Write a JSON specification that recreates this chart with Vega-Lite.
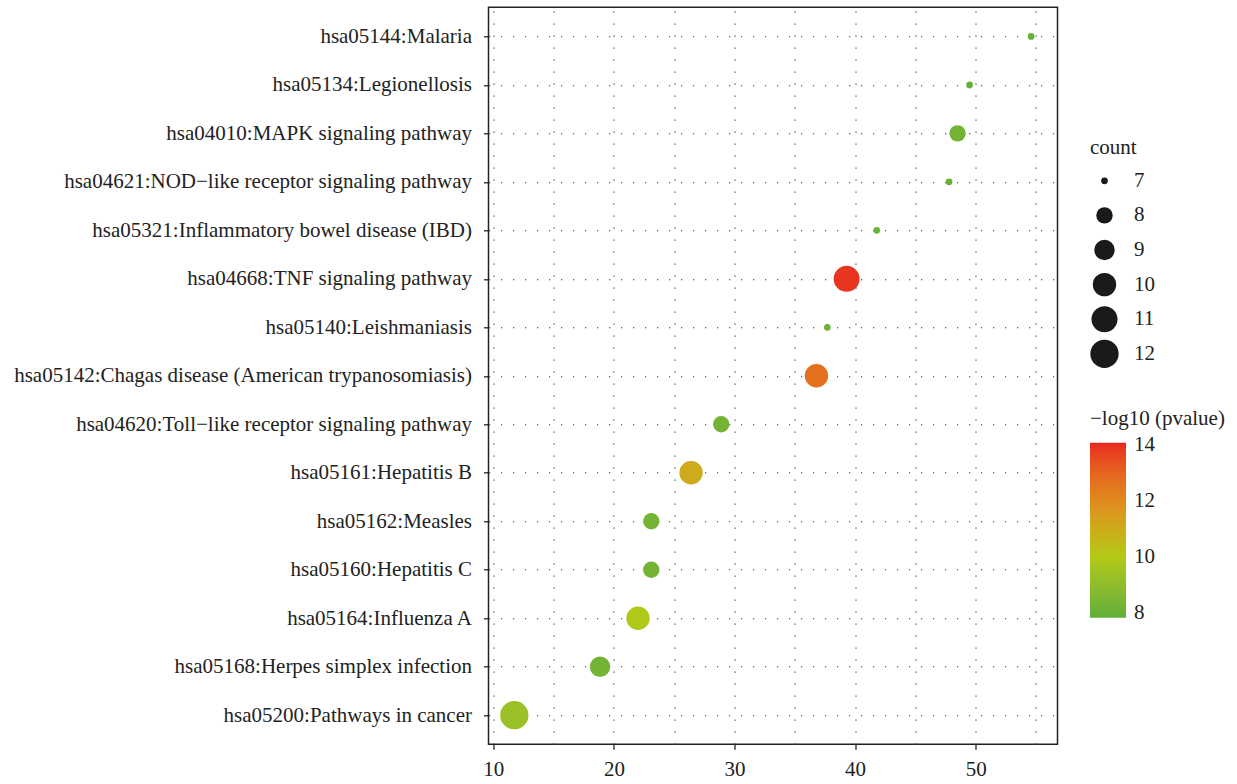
{
  "$schema": "https://vega.github.io/schema/vega-lite/v6.json",
  "width": 569,
  "height": 737,
  "autosize": {"type": "none"},
  "padding": {"left": 488.5, "top": 7.3, "right": 179.5, "bottom": 39.7},
  "background": "white",
  "config": {
    "font": "Liberation Serif",
    "view": {"stroke": "#222222", "strokeWidth": 1.5},
    "axis": {
      "domain": false,
      "tickColor": "#222222",
      "tickSize": 5,
      "tickWidth": 1.3,
      "labelFontSize": 21,
      "labelColor": "#222222",
      "labelLimit": 1000,
      "grid": true,
      "gridColor": "#333333",
      "gridWidth": 1.1,
      "gridDash": [1.2, 10.8],
      "title": null
    },
    "legend": {
      "titleFontSize": 21,
      "titleFontWeight": "normal",
      "titleColor": "#222222",
      "labelFontSize": 21,
      "labelColor": "#222222"
    }
  },
  "data": {
    "values": [
      {"term": "hsa05144:Malaria", "ratio": 54.6, "count": 7, "logp": 8.0},
      {"term": "hsa05134:Legionellosis", "ratio": 49.5, "count": 7, "logp": 8.0},
      {"term": "hsa04010:MAPK signaling pathway", "ratio": 48.5, "count": 8, "logp": 8.3},
      {"term": "hsa04621:NOD−like receptor signaling pathway", "ratio": 47.8, "count": 7, "logp": 8.0},
      {"term": "hsa05321:Inflammatory bowel disease (IBD)", "ratio": 41.8, "count": 7, "logp": 8.1},
      {"term": "hsa04668:TNF signaling pathway", "ratio": 39.3, "count": 11, "logp": 13.9},
      {"term": "hsa05140:Leishmaniasis", "ratio": 37.7, "count": 7, "logp": 8.1},
      {"term": "hsa05142:Chagas disease (American trypanosomiasis)", "ratio": 36.8, "count": 10, "logp": 12.7},
      {"term": "hsa04620:Toll−like receptor signaling pathway", "ratio": 28.9, "count": 8, "logp": 8.3},
      {"term": "hsa05161:Hepatitis B", "ratio": 26.4, "count": 10, "logp": 11.0},
      {"term": "hsa05162:Measles", "ratio": 23.1, "count": 8, "logp": 8.3},
      {"term": "hsa05160:Hepatitis C", "ratio": 23.1, "count": 8, "logp": 8.3},
      {"term": "hsa05164:Influenza A", "ratio": 22.0, "count": 10, "logp": 9.9},
      {"term": "hsa05168:Herpes simplex infection", "ratio": 18.85, "count": 9, "logp": 8.3},
      {"term": "hsa05200:Pathways in cancer", "ratio": 11.74, "count": 12, "logp": 9.3}
    ]
  },
  "mark": {"type": "point", "filled": true, "shape": "circle", "opacity": 1},
  "encoding": {
    "y": {
      "field": "term",
      "type": "nominal",
      "sort": null,
      "scale": {"type": "point", "padding": 0.6},
      "axis": {"labelPadding": 12}
    },
    "x": {
      "field": "ratio",
      "type": "quantitative",
      "scale": {"domain": [9.6, 56.79], "nice": false, "zero": false},
      "axis": {
        "values": [10, 15, 20, 25, 30, 35, 40, 45, 50, 55],
        "labelExpr": "datum.value % 10 === 0 ? datum.label : ''",
        "tickOpacity": {"condition": {"test": "datum.value % 10 !== 0", "value": 0}, "value": 1},
        "labelPadding": 9
      }
    },
    "size": {
      "field": "count",
      "type": "quantitative",
      "title": "count",
      "scale": {"domain": [7, 8, 9, 10, 11, 12], "range": [45, 269, 416, 548, 676, 801]},
      "legend": {
        "orient": "none",
        "legendX": 601.5,
        "legendY": 129.5,
        "values": [7, 8, 9, 10, 11, 12],
        "symbolFillColor": "#1a1a1a",
        "symbolStrokeColor": "#1a1a1a",
        "symbolStrokeWidth": 0,
        "clipHeight": 30,
        "rowPadding": 4.6,
        "labelOffset": 15,
        "titlePadding": 8
      }
    },
    "color": {
      "field": "logp",
      "type": "quantitative",
      "title": "−log10 (pvalue)",
      "scale": {
        "domain": [7.82, 10, 12, 14.07],
        "range": ["#5fae3a", "#b3c916", "#e08a1e", "#e8271f"],
        "interpolate": "lab"
      },
      "legend": {
        "orient": "none",
        "legendX": 601.5,
        "legendY": 400.5,
        "values": [8, 10, 12, 14],
        "gradientLength": 175,
        "gradientThickness": 36,
        "gradientStrokeWidth": 0,
        "labelOffset": 8,
        "titlePadding": 14
      }
    }
  }
}
